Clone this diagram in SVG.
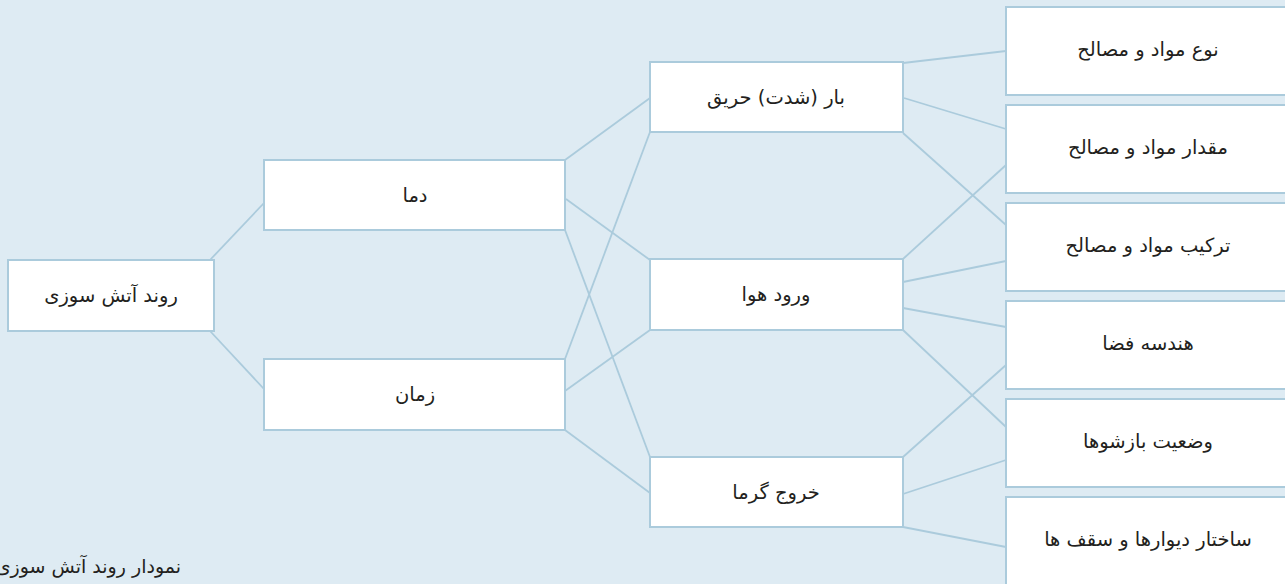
<svg xmlns="http://www.w3.org/2000/svg" width="1285" height="584" viewBox="0 0 1285 584">
<style>
.bg{fill:#deebf3}
.box{fill:#ffffff;stroke:#abcbdc;stroke-width:2}
.lnk line{stroke:#abcbdc;stroke-width:1.8;fill:none}
text{font-family:"DejaVu Sans","Liberation Sans",sans-serif;font-size:19.5px;fill:#231f20;text-anchor:middle;direction:rtl}
.cap{text-anchor:end;direction:ltr;font-size:19px}
</style>
<rect class="bg" x="0" y="0" width="1285" height="584"/>
<g id="connectors" class="lnk">
<line x1="210" y1="260" x2="264" y2="203"/>
<line x1="210" y1="331" x2="264" y2="389"/>
<line x1="565" y1="160" x2="650" y2="98"/>
<line x1="566" y1="199" x2="650" y2="260"/>
<line x1="565" y1="230" x2="650" y2="457"/>
<line x1="565" y1="359" x2="650" y2="132"/>
<line x1="565" y1="391" x2="650" y2="330"/>
<line x1="565" y1="430" x2="650" y2="493"/>
<line x1="903" y1="63" x2="1006" y2="51"/>
<line x1="904" y1="98" x2="1006" y2="129"/>
<line x1="903" y1="133" x2="1006" y2="225"/>
<line x1="903" y1="259" x2="1006" y2="165"/>
<line x1="903" y1="282" x2="1006" y2="261"/>
<line x1="903" y1="308" x2="1006" y2="327"/>
<line x1="903" y1="330" x2="1006" y2="427"/>
<line x1="903" y1="457" x2="1006" y2="365"/>
<line x1="903" y1="494" x2="1006" y2="460"/>
<line x1="903" y1="527" x2="1006" y2="547"/>
</g>
<g id="n-root"><rect class="box" x="8" y="260" width="206" height="71"/><text x="111" y="302">روند آتش سوزی</text></g>
<g id="n-dama"><rect class="box" x="264" y="160" width="301" height="70"/><text x="415" y="202">دما</text></g>
<g id="n-zaman"><rect class="box" x="264" y="359" width="301" height="71"/><text x="415" y="401">زمان</text></g>
<g id="n-bar"><rect class="box" x="650" y="62" width="253" height="70"/><text x="776" y="104">بار (شدت) حریق</text></g>
<g id="n-vorood"><rect class="box" x="650" y="259" width="253" height="71"/><text x="776" y="301">ورود هوا</text></g>
<g id="n-khorooj"><rect class="box" x="650" y="457" width="253" height="70"/><text x="776" y="499">خروج گرما</text></g>
<g id="n-r1"><rect class="box" x="1006" y="7" width="290" height="88"/><text x="1148" y="56">نوع مواد و مصالح</text></g>
<g id="n-r2"><rect class="box" x="1006" y="105" width="290" height="88"/><text x="1148" y="154">مقدار مواد و مصالح</text></g>
<g id="n-r3"><rect class="box" x="1006" y="203" width="290" height="88"/><text x="1148" y="252">ترکیب مواد و مصالح</text></g>
<g id="n-r4"><rect class="box" x="1006" y="301" width="290" height="88"/><text x="1148" y="350">هندسه فضا</text></g>
<g id="n-r5"><rect class="box" x="1006" y="399" width="290" height="88"/><text x="1148" y="448">وضعیت بازشوها</text></g>
<g id="n-r6"><rect class="box" x="1006" y="497" width="290" height="90"/><text x="1148" y="546">ساختار دیوارها و سقف ها</text></g>
<text class="cap" x="181" y="573">نمودار روند آتش سوزی</text>
</svg>
